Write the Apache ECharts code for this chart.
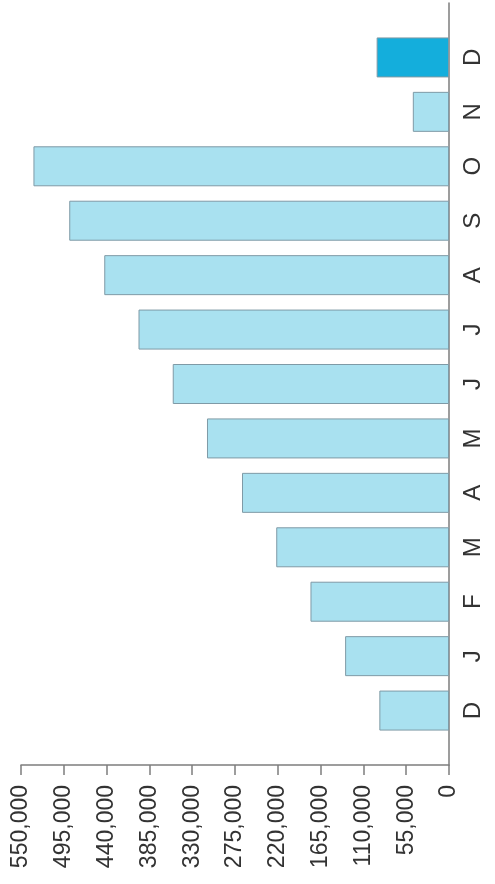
<!DOCTYPE html>
<html>
<head>
<meta charset="utf-8">
<script src="https://cdn.jsdelivr.net/npm/echarts@6/dist/echarts.min.js"></script>
<style>
html,body{margin:0;padding:0;background:#fff;}
#chart{width:495px;height:884px;}
</style>
</head>
<body>
<div id="chart"></div>
<script>
// Monthly values (first D = previous December, last D = current December)
const months = ['D','J','F','M','A','M','J','J','A','S','O','N','D'];
const values = [89500, 133500, 178000, 222000, 266000, 311000, 355000, 399000, 443000, 488000, 534000, 46500, 93000];
const highlightIndex = 12;
const valueTicks = [0, 55000, 110000, 165000, 220000, 275000, 330000, 385000, 440000, 495000, 550000];

const lightFill = '#a9e1f0';
const darkFill = '#14aedc';

const cats = [''].concat(months, ['']);
const seriesData = [null].concat(values.map((v, i) => ({
  value: v,
  itemStyle: i === highlightIndex ? {color: darkFill} : undefined
})), [null]);

const chart = echarts.init(document.getElementById('chart'), null, {renderer: 'canvas'});
chart.setOption({
  animation: false,
  backgroundColor: '#ffffff',
  grid: {left: 21, right: 46, top: 3, bottom: 119},
  xAxis: {
    type: 'value',
    inverse: true,
    position: 'bottom',
    min: valueTicks[0],
    max: valueTicks[valueTicks.length - 1],
    interval: valueTicks[1] - valueTicks[0],
    splitLine: {show: false},
    axisLine: {show: true, lineStyle: {color: '#7d7d7d', width: 1.5}},
    axisTick: {show: true, length: 10, lineStyle: {color: '#7d7d7d', width: 1.5}},
    axisLabel: {
      rotate: 90,
      margin: 20,
      fontSize: 23,
      fontFamily: 'Liberation Sans, Arial, sans-serif',
      color: '#333333',
      formatter: v => v.toLocaleString('en-US')
    }
  },
  yAxis: {
    type: 'category',
    position: 'right',
    data: cats,
    boundaryGap: false,
    axisLine: {show: true, lineStyle: {color: '#7d7d7d', width: 1.5}},
    axisTick: {show: false},
    splitLine: {show: false},
    axisLabel: {
      rotate: 90,
      margin: 12,
      fontSize: 24,
      fontFamily: 'Liberation Sans, Arial, sans-serif',
      color: '#333333',
      interval: 0
    }
  },
  series: [{
    type: 'bar',
    data: seriesData,
    barWidth: 40,
    itemStyle: {color: lightFill, borderColor: '#7f9aa6', borderWidth: 1}
  }]
});
</script>
</body>
</html>
